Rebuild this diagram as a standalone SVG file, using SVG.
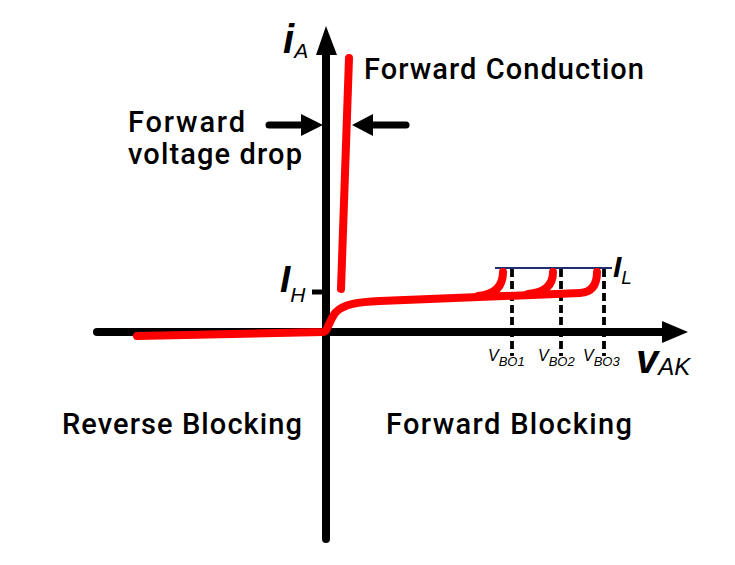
<svg xmlns="http://www.w3.org/2000/svg" width="735" height="565" viewBox="0 0 735 565">
<style>
.lbl{font-family:Roboto,"Liberation Sans",sans-serif;font-weight:500;font-size:29px;fill:#000}
.sym{font-family:"Liberation Sans",Arial,sans-serif;font-style:italic;fill:#000}
.big{font-weight:bold}
.ax{stroke:#000;stroke-width:8;fill:none;stroke-linecap:round}
.red{stroke:#ff0000;stroke-width:8;fill:none;stroke-linecap:round;stroke-linejoin:round}
.dash{stroke:#000;stroke-width:3.8;stroke-dasharray:8 4;fill:none}
.arr{stroke:#000;stroke-width:7;stroke-linecap:round;fill:none}
</style>
<rect width="735" height="565" fill="#fff"/>
<g id="axes">
<line class="ax" x1="97" y1="332" x2="664" y2="332"/>
<polygon points="662,321 688,332 662,343" fill="#000"/>
<line class="ax" x1="326" y1="539" x2="326" y2="52"/>
<polygon points="316,55 326,26 337,55" fill="#000"/>
<line x1="312" y1="292" x2="326" y2="292" stroke="#000" stroke-width="5"/>
</g>
<g id="connectors">
<line class="dash" x1="512" y1="269" x2="512" y2="356"/>
<line class="dash" x1="561" y1="269" x2="561" y2="356"/>
<line class="dash" x1="604" y1="269" x2="604" y2="356"/>
<line x1="495" y1="268" x2="612" y2="268" stroke="#1f2f6e" stroke-width="2"/>
<path class="red" d="M137 336 L323 332 C328 332 329 320 336 312 C344 304 358 302 380 301 L580 293 Q597 292 597 272"/>
<path class="red" d="M478 296 Q503 294 503 272"/>
<path class="red" d="M528 294 Q553 292 553 272"/>
<line class="red" x1="341" y1="289" x2="349" y2="58" stroke-width="7"/>
<line class="arr" x1="269" y1="125" x2="305" y2="125"/>
<polygon points="301,114 323,125 301,136" fill="#000"/>
<line class="arr" x1="368" y1="125" x2="406" y2="125"/>
<polygon points="373,114 352,125 373,136" fill="#000"/>
</g>
<g id="labels">
<text class="lbl" x="364" y="79" textLength="280">Forward Conduction</text>
<text class="lbl" x="128" y="132" textLength="117">Forward</text>
<text class="lbl" x="128" y="164" textLength="174">voltage drop</text>
<text class="lbl" x="62" y="434" textLength="240">Reverse Blocking</text>
<text class="lbl" x="386" y="434" textLength="246">Forward Blocking</text>
</g>
<g id="symbols">
<text class="sym big" x="283" y="53" font-size="40">i<tspan font-size="21" font-weight="normal" dy="5">A</tspan></text>
<text class="sym" x="280" y="292" font-size="37" font-weight="600">I<tspan font-size="21" font-weight="normal" dy="10">H</tspan></text>
<text class="sym" x="613" y="277" font-size="30" font-weight="600">I<tspan font-size="19" font-weight="normal" dy="7">L</tspan></text>
<text class="sym big" x="636" y="373" font-size="40">v<tspan font-size="24" font-weight="normal" dy="2">AK</tspan></text>
<text class="sym" x="488" y="361" font-size="16">V<tspan font-size="13" dy="5">BO1</tspan></text>
<text class="sym" x="538" y="361" font-size="16">V<tspan font-size="13" dy="5">BO2</tspan></text>
<text class="sym" x="583" y="361" font-size="16">V<tspan font-size="13" dy="5">BO3</tspan></text>
</g>
</svg>
